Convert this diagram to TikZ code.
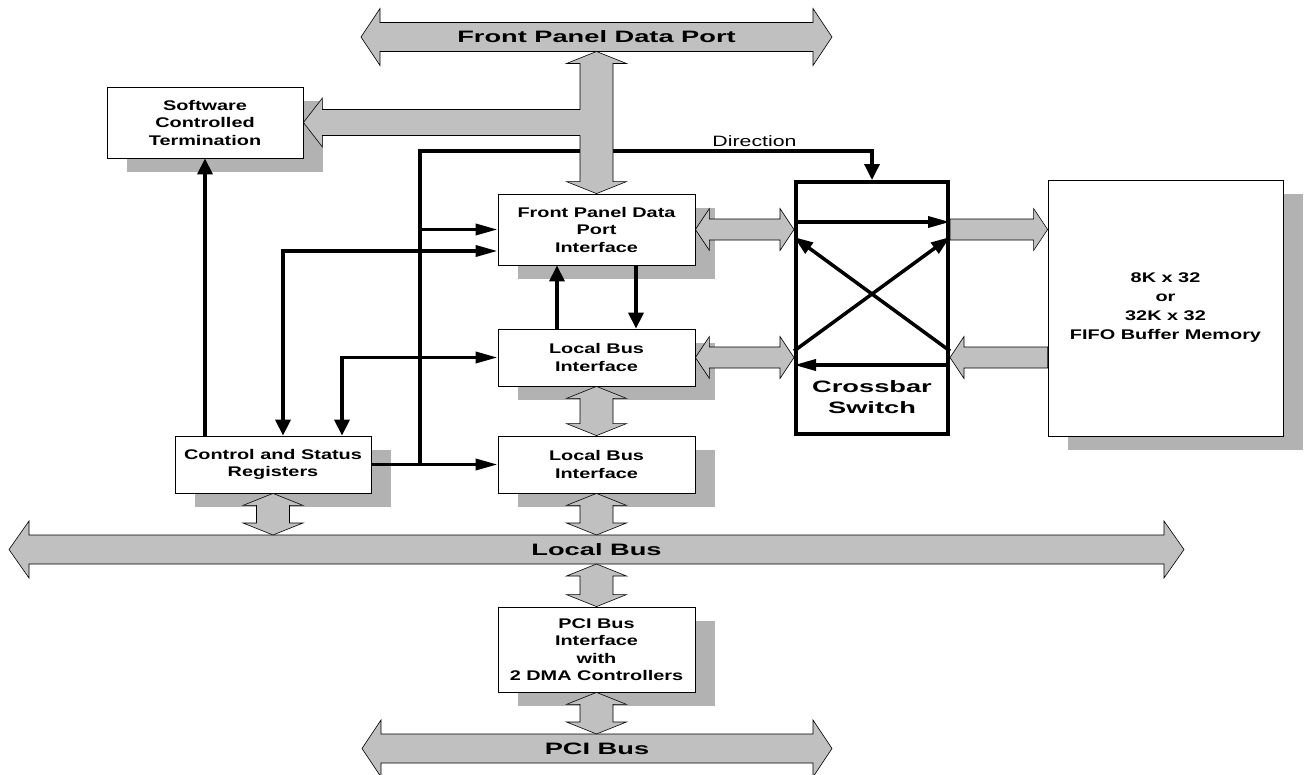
\documentclass[tikz,border=0pt]{standalone}
\usepackage{fontspec}
\newfontfamily\blockfont{Liberation Sans}[FakeStretch=1.42]
\newfontfamily\railfont{Liberation Sans}[FakeStretch=1.65]
\usetikzlibrary{arrows.meta,calc,shadows}

\definecolor{busgray}{RGB}{192,192,192}
\definecolor{shadegray}{RGB}{178,178,178}

\newcommand{\blocktext}{\blockfont\bfseries\fontsize{14}{17.5}\selectfont}
\newcommand{\railtext}{\railfont\bfseries\fontsize{16.5}{20}\selectfont}

% fat two-way arrow, left tip #1, right tip #2, half shaft #3, half head #4, head length #5
\newcommand{\hdouble}[5]{%
  \path[fat] let \p1=#1, \p2=#2 in
    (\x1,\y1) -- (\x1+#5,\y1+#4) -- (\x1+#5,\y1+#3) -- (\x2-#5,\y1+#3) -- (\x2-#5,\y1+#4)
    -- (\x2,\y1) -- (\x2-#5,\y1-#4) -- (\x2-#5,\y1-#3) -- (\x1+#5,\y1-#3) -- (\x1+#5,\y1-#4) -- cycle;}
% fat two-way arrow, top tip #1, bottom tip #2
\newcommand{\vdouble}[2]{%
  \path[fat] let \p1=#1, \p2=#2 in
    (\x1,\y1) -- (\x1+30pt,\y1-12pt) -- (\x1+16.5pt,\y1-12pt) -- (\x1+16.5pt,\y2+12pt) -- (\x1+30pt,\y2+12pt)
    -- (\x1,\y2) -- (\x1-30pt,\y2+12pt) -- (\x1-16.5pt,\y2+12pt) -- (\x1-16.5pt,\y1-12pt) -- (\x1-30pt,\y1-12pt) -- cycle;}
% fat one-way arrows
\newcommand{\hright}[2]{%
  \path[fat] let \p1=#1, \p2=#2 in
    (\x1,\y1+10.5pt) -- (\x2-14pt,\y1+10.5pt) -- (\x2-14pt,\y1+21pt) -- (\x2,\y1)
    -- (\x2-14pt,\y1-21pt) -- (\x2-14pt,\y1-10.5pt) -- (\x1,\y1-10.5pt) -- cycle;}
\newcommand{\hleft}[2]{%
  \path[fat] let \p1=#1, \p2=#2 in
    (\x2,\y1+10.5pt) -- (\x1+14pt,\y1+10.5pt) -- (\x1+14pt,\y1+21pt) -- (\x1,\y1)
    -- (\x1+14pt,\y1-21pt) -- (\x1+14pt,\y1-10.5pt) -- (\x2,\y1-10.5pt) -- cycle;}

\begin{document}
\begin{tikzpicture}[x=1pt, y=-1pt,
  box/.style={draw, line width=0.8pt, fill=white, align=center, inner sep=0pt,
    minimum width=197pt, font=\blocktext,
    general shadow={fill=shadegray, shadow xshift=20pt, shadow yshift=-14pt}},
  fat/.style={draw, line width=0.6pt, fill=busgray},
  flow/.style={line width=3.5pt},
  vtip/.tip={Triangle[length=16pt,width=15pt]},
  htip/.tip={Triangle[length=22pt,width=11pt]},
  dtip/.tip={Triangle[length=19pt,width=13pt]},
  buslabel/.style={font=\railtext}]
  \useasboundingbox (0,0) rectangle (1305,774);

  % buses
  \coordinate (fpL) at (361,37);
  \coordinate (fpR) at (832,37);
  \hdouble{(fpL)}{(fpR)}{14.5pt}{28.5pt}{19pt}
  \node[buslabel] (fpbus) at ($(fpL)!0.5!(fpR)$) {Front Panel Data Port};
  \coordinate (lbL) at (9,549.5);
  \coordinate (lbR) at (1184,549.5);
  \hdouble{(lbL)}{(lbR)}{14.5pt}{28.5pt}{20pt}
  \node[buslabel] (lbus) at ($(lbL)!0.5!(lbR)$) {Local Bus};
  \coordinate (pciL) at (362,748.5);
  \coordinate (pciR) at (832,748.5);
  \hdouble{(pciL)}{(pciR)}{14.5pt}{28.5pt}{19pt}
  \node[buslabel] (pcibus) at ($(pciL)!0.5!(pciR)$) {PCI Bus};

  % blocks
  \node[box, minimum width=196pt, minimum height=71pt] (sct) at (205,122.5) {Software\\Controlled\\Termination};
  \node[box, minimum height=71pt] (fpi) at (596.5,229.5) {Front Panel Data\\Port\\Interface};
  \node[box, minimum height=57pt] (lbi1) at (596.5,357.5) {Local Bus\\Interface};
  \node[box, minimum height=57pt] (lbi2) at (596.5,464.5) {Local Bus\\Interface};
  \node[box, minimum width=196pt, minimum height=57pt] (csr) at (273,464.5) {Control and Status\\Registers};
  \node[box, minimum height=85pt] (pci) at (596.5,649.5) {PCI Bus\\Interface\\with\\2 DMA Controllers};
  \node[box, minimum width=235pt, minimum height=256pt,
    font={\blockfont\bfseries\fontsize{14}{19}\selectfont}] (fifo) at (1165.5,308)
    {8K x 32\\or\\32K x 32\\FIFO Buffer Memory};
  \node[draw, line width=4pt, minimum width=152pt, minimum height=252pt] (xbar) at (872,308) {};
  \node[align=center, font={\railfont\bfseries\fontsize{16.5}{21}\selectfont}] (xbarlbl)
    at ([yshift=38.5pt]xbar.south) {Crossbar\\Switch};

  % control lines
  \draw[flow, -vtip] (csr.north -| sct.south) -- (sct.south);
  \draw[flow, vtip-htip] ([xshift=10pt]csr.north) |- ([yshift=-21.5pt]fpi.west);
  \draw[flow, vtip-htip] ([xshift=69pt]csr.north) |- (lbi1.west);
  \draw[flow, -htip] (csr.east) -- (lbi2.west);
  \coordinate (tap) at (420,464.5);
  \coordinate (bend) at (420,151);
  \draw[flow, -vtip] (tap) -- (bend) -| node[pos=0.37, above=-1pt,
    font={\blockfont\fontsize{15}{18}\selectfont}] (dirlbl) {Direction} (xbar.north);
  \draw[flow, -htip] (tap |- fpi.west) -- (fpi.west);
  \draw[flow, -vtip] ([xshift=-39.5pt]lbi1.north) -- ([xshift=-39.5pt]fpi.south);
  \draw[flow, -vtip] ([xshift=39.5pt]fpi.south) -- ([xshift=39.5pt]lbi1.north);

  % switch paths
  \draw[flow, -htip] ([yshift=86pt]xbar.west) -- ([yshift=86pt]xbar.east);
  \draw[flow, -htip] ([yshift=-57pt]xbar.east) -- ([yshift=-57pt]xbar.west);
  \draw[flow, -dtip] ([yshift=-43pt]xbar.east) -- ([yshift=71pt]xbar.west);
  \draw[flow, -dtip] ([yshift=-43pt]xbar.west) -- ([yshift=71pt]xbar.east);

  % data paths
  \coordinate (fpdrop) at (596.5,51.5);
  \vdouble{(fpdrop)}{(fpi.north)}
  \fill[busgray] let \p1=(sct.east), \p2=(fpdrop) in
    (\x2-15pt,\y1+13pt) -- (\x1+19pt,\y1+13pt) -- (\x1+19pt,\y1+24.5pt) -- (\x1,\y1)
    -- (\x1+19pt,\y1-24.5pt) -- (\x1+19pt,\y1-13pt) -- (\x2-15pt,\y1-13pt) -- cycle;
  \draw[line width=0.6pt] let \p1=(sct.east), \p2=(fpdrop) in
    (\x2-16.5pt,\y1+13pt) -- (\x1+19pt,\y1+13pt) -- (\x1+19pt,\y1+24.5pt) -- (\x1,\y1)
    -- (\x1+19pt,\y1-24.5pt) -- (\x1+19pt,\y1-13pt) -- (\x2-16.5pt,\y1-13pt);
  \hdouble{(fpi.east)}{(fpi.east -| xbar.west)}{10.5pt}{21pt}{14pt}
  \hdouble{(lbi1.east)}{(lbi1.east -| xbar.west)}{10.5pt}{21pt}{14pt}
  \hright{(fpi.east -| xbar.east)}{(fpi.east -| fifo.west)}
  \hleft{(lbi1.east -| xbar.east)}{(lbi1.east -| fifo.west)}
  \coordinate (lbtop) at (596.5,535);
  \coordinate (lbbot) at (596.5,564);
  \coordinate (pcitop) at (596.5,734);
  \vdouble{(lbi1.south)}{(lbi2.north)}
  \vdouble{(csr.south)}{(csr.south |- lbtop)}
  \vdouble{(lbi2.south)}{(lbtop)}
  \vdouble{(lbbot)}{(pci.north)}
  \vdouble{(pci.south)}{(pcitop)}
\end{tikzpicture}
\end{document}
